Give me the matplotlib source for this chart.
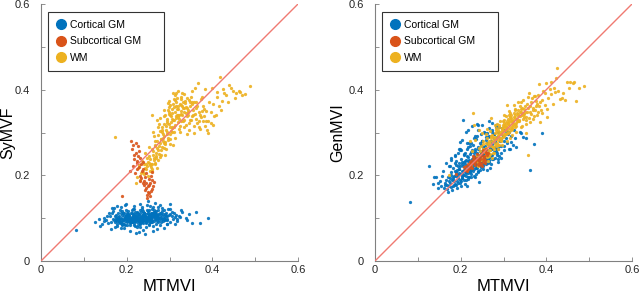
import numpy as np
import matplotlib
matplotlib.use("Agg")
import matplotlib.pyplot as plt
from matplotlib.lines import Line2D

plt.rcParams['font.family'] = ['Liberation Sans', 'DejaVu Sans']

# ---- data (MTMVI shared by both panels) ----
ctx_mtmvi = [0.182,0.195,0.207,0.214,0.221,0.228,0.236,0.243,0.251,0.259,
             0.176,0.188,0.199,0.211,0.219,0.232,0.240,0.248,0.262,0.271,
             0.168,0.179,0.191,0.203,0.216,0.225,0.238,0.254,0.266,0.280,
             0.185,0.197,0.206,0.218,0.229,0.234,0.246,0.257,0.269,0.284,
             0.172,0.189,0.201,0.209,0.223,0.237,0.249,0.261,0.274,0.291,
             0.193,0.205,0.213,0.226,0.231,0.244,0.253,0.264,0.277,0.288,
             0.161,0.174,0.186,0.198,0.212,0.222,0.239,0.252,0.268,0.295,
             0.178,0.194,0.204,0.217,0.227,0.241,0.256,0.263,0.276,0.299,
             0.166,0.183,0.200,0.215,0.224,0.235,0.247,0.259,0.272,0.286,
             0.190,0.202,0.210,0.220,0.233,0.245,0.258,0.267,0.282,0.305,
             0.082,0.125,0.138,0.148,0.152,0.158,0.163,0.171,0.196,0.208,
             0.230,0.242,0.255,0.265,0.270,0.283,0.293,0.310,0.318,0.322,
             0.330,0.338,0.345,0.352,0.362,0.390,0.250,0.222,0.187,0.278,
             0.205,0.240,0.215,0.232,
             0.175,0.181,0.187,0.192,0.198,0.203,0.209,0.214,0.219,0.225,
             0.230,0.236,0.241,0.247,0.252,0.258,0.263,0.269,0.274,0.280,
             0.285,0.290,0.296,0.301,0.307,0.312,0.318,0.180,0.186,0.191,
             0.196,0.201,0.207,0.212,0.217,0.223,0.228,0.234,0.239,0.245,
             0.250,0.256,0.261,0.267,0.272,0.278,0.283,0.289,0.294,0.300,
             0.170,0.177,0.183,0.189,0.194,0.200,0.206,0.211,0.216,0.222,
             0.227,0.233,0.238,0.244,0.249,0.255,0.260,0.266,0.271,0.277,
             0.164,0.169,0.173,0.178,0.184,0.188,0.193,0.199,0.204,0.208,
             0.213,0.218,0.224,0.229,0.235,0.240,0.246,0.251,0.257,0.262,
             0.268,0.273,0.279,0.284,0.290,0.295,0.302,0.309,0.315,0.325,
             0.157,0.146,0.135,0.143,0.155,0.166,0.178,0.199,0.218,0.228,
             0.237,0.248,0.262,0.273,0.288,0.300,0.313,0.328,0.341,0.372,
             0.221,0.226,0.231,0.237,0.242,0.248,0.253,0.259,0.264,0.270,
             0.185,0.190,0.196,0.202,0.207,0.212,0.218,0.224,0.230,0.236,
             0.241,0.246,0.252,0.257,0.263,0.268,0.274,0.280,0.287,0.293,
             0.198,0.204,0.212,0.219,0.226,0.233,0.241,0.249,0.257,0.266,
             0.274,0.283,0.292,0.172,0.178,0.186,0.193,0.201,0.208,0.215]
ctx_symvf = [0.094,0.101,0.088,0.105,0.097,0.110,0.092,0.103,0.099,0.108,
             0.108,0.085,0.097,0.092,0.114,0.087,0.106,0.095,0.112,0.101,
             0.098,0.103,0.112,0.099,0.083,0.100,0.116,0.090,0.098,0.107,
             0.089,0.094,0.107,0.101,0.093,0.098,0.089,0.111,0.117,0.094,
             0.091,0.116,0.085,0.111,0.106,0.094,0.113,0.104,0.090,0.113,
             0.099,0.093,0.096,0.085,0.119,0.101,0.105,0.093,0.112,0.104,
             0.104,0.095,0.090,0.108,0.118,0.103,0.097,0.084,0.106,0.099,
             0.082,0.106,0.102,0.088,0.095,0.111,0.100,0.119,0.096,0.108,
             0.112,0.099,0.093,0.103,0.090,0.107,0.102,0.096,0.103,0.118,
             0.087,0.110,0.098,0.094,0.102,0.093,0.091,0.110,0.099,0.105,
             0.072,0.091,0.082,0.101,0.096,0.112,0.075,0.123,0.130,0.070,
             0.134,0.063,0.128,0.135,0.075,0.124,0.086,0.112,0.093,0.106,
             0.114,0.101,0.109,0.088,0.115,0.100,0.139,0.066,0.125,0.131,
             0.096,0.104,0.121,0.079,
             0.101,0.092,0.111,0.086,0.104,0.117,0.090,0.109,0.082,0.115,
             0.089,0.121,0.096,0.118,0.086,0.121,0.102,0.087,0.120,0.091,
             0.109,0.096,0.121,0.092,0.115,0.103,0.099,0.113,0.078,0.096,
             0.083,0.102,0.094,0.113,0.099,0.080,0.107,0.114,0.088,0.109,
             0.093,0.106,0.082,0.114,0.101,0.085,0.116,0.099,0.087,0.122,
             0.096,0.087,0.104,0.099,0.112,0.091,0.106,0.095,0.108,0.099,
             0.111,0.096,0.103,0.092,0.117,0.098,0.113,0.104,0.094,0.100,
             0.090,0.116,0.080,0.097,0.120,0.093,0.078,0.118,0.109,0.085,
             0.103,0.121,0.095,0.090,0.125,0.113,0.080,0.118,0.105,0.125,
             0.097,0.110,0.103,0.099,0.109,0.104,0.110,0.097,0.107,0.103,
             0.089,0.094,0.097,0.087,0.104,0.124,0.128,0.133,0.129,0.068,
             0.072,0.130,0.071,0.126,0.078,0.133,0.087,0.118,0.095,0.089,
             0.106,0.101,0.098,0.108,0.104,0.100,0.107,0.102,0.108,0.106,
             0.098,0.107,0.100,0.105,0.101,0.098,0.093,0.111,0.103,0.099,
             0.111,0.097,0.109,0.096,0.115,0.109,0.107,0.112,0.101,0.095,
             0.097,0.104,0.091,0.109,0.100,0.096,0.113,0.103,0.092,0.110,
             0.101,0.098,0.106,0.105,0.093,0.101,0.087,0.112,0.097,0.104]
ctx_genmvi = [0.196,0.205,0.212,0.221,0.208,0.229,0.218,0.236,0.227,0.241,
              0.183,0.199,0.190,0.226,0.215,0.241,0.230,0.219,0.252,0.247,
              0.178,0.190,0.212,0.198,0.234,0.213,0.253,0.246,0.232,0.266,
              0.187,0.215,0.201,0.205,0.222,0.262,0.241,0.268,0.259,0.248,
              0.175,0.207,0.186,0.233,0.197,0.226,0.281,0.235,0.272,0.279,
              0.193,0.208,0.199,0.238,0.244,0.231,0.222,0.273,0.286,0.262,
              0.170,0.193,0.179,0.222,0.205,0.249,0.236,0.257,0.245,0.269,
              0.201,0.183,0.227,0.192,0.258,0.210,0.264,0.250,0.238,0.292,
              0.188,0.218,0.204,0.244,0.230,0.202,0.252,0.283,0.261,0.301,
              0.204,0.193,0.215,0.236,0.226,0.275,0.243,0.292,0.256,0.287,
              0.138,0.221,0.196,0.171,0.186,0.209,0.178,0.160,0.262,0.249,
              0.287,0.184,0.301,0.328,0.226,0.312,0.240,0.296,0.277,0.270,
              0.265,0.302,0.290,0.286,0.212,0.300,0.318,0.269,0.248,0.297,
              0.329,0.318,0.276,0.214,
              0.221,0.176,0.244,0.186,0.258,0.231,0.179,0.262,0.196,0.275,
              0.199,0.284,0.208,0.296,0.214,0.290,0.229,0.218,0.306,0.241,
              0.289,0.245,0.311,0.268,0.303,0.262,0.291,0.165,0.211,0.171,
              0.229,0.176,0.247,0.189,0.266,0.203,0.271,0.196,0.291,0.213,
              0.281,0.229,0.299,0.236,0.248,0.296,0.264,0.312,0.251,0.306,
              0.196,0.207,0.192,0.233,0.201,0.239,0.221,0.251,0.218,0.222,
              0.233,0.256,0.224,0.257,0.247,0.253,0.262,0.258,0.281,0.255,
              0.181,0.169,0.186,0.173,0.198,0.178,0.221,0.183,0.194,0.201,
              0.207,0.196,0.255,0.211,0.222,0.267,0.225,0.236,0.242,0.276,
              0.264,0.239,0.277,0.253,0.268,0.284,0.281,0.276,0.261,0.307,
              0.198,0.181,0.180,0.195,0.174,0.228,0.235,0.277,0.306,0.241,
              0.320,0.270,0.212,0.322,0.232,0.258,0.302,0.286,0.299,0.272,
              0.211,0.218,0.238,0.216,0.246,0.231,0.252,0.226,0.239,0.268,
              0.178,0.223,0.214,0.211,0.232,0.236,0.242,0.230,0.251,0.242,
              0.261,0.239,0.266,0.239,0.290,0.243,0.266,0.283,0.239,0.296,
              0.262,0.283,0.301,0.276,0.315,0.292,0.306,0.281,0.299,0.310,
              0.301,0.318,0.284,0.221,0.241,0.228,0.251,0.259,0.188,0.176]

sub_mtmvi = [0.212,0.218,0.221,0.225,0.214,0.229,0.223,0.217,0.231,0.226,
             0.219,0.234,0.228,0.222,0.236,0.215,0.232,0.227,0.238,0.224,
             0.241,0.245,0.249,0.252,0.243,0.247,0.255,0.251,0.258,0.244,
             0.248,0.253,0.256,0.246,0.250,0.259,0.242,0.254,0.262,0.257,
             0.190,0.207,0.239,0.260,0.237,0.233,0.264,0.240,0.209,0.230]
sub_symvf = [0.262,0.248,0.275,0.233,0.222,0.256,0.214,0.238,0.241,0.268,
             0.205,0.227,0.219,0.251,0.209,0.270,0.198,0.244,0.231,0.228,
             0.186,0.171,0.162,0.177,0.196,0.154,0.183,0.192,0.168,0.205,
             0.147,0.158,0.199,0.181,0.174,0.189,0.166,0.151,0.176,0.163,
             0.152,0.211,0.214,0.207,0.182,0.193,0.185,0.178,0.281,0.187]
sub_genmvi = [0.221,0.214,0.232,0.227,0.209,0.238,0.219,0.226,0.242,0.229,
              0.216,0.231,0.245,0.224,0.236,0.212,0.228,0.218,0.249,0.234,
              0.241,0.228,0.252,0.237,0.223,0.246,0.244,0.232,0.255,0.239,
              0.226,0.258,0.236,0.247,0.221,0.251,0.233,0.243,0.248,0.229,
              0.204,0.219,0.241,0.262,0.237,0.225,0.253,0.227,0.212,0.235]

wm_mtmvi = [0.245,0.252,0.258,0.263,0.268,0.272,0.276,0.281,0.285,0.289,
            0.293,0.297,0.301,0.305,0.309,0.313,0.317,0.321,0.326,0.331,
            0.249,0.256,0.261,0.266,0.271,0.279,0.284,0.291,0.296,0.303,
            0.307,0.311,0.315,0.319,0.324,0.328,0.333,0.337,0.342,0.347,
            0.241,0.247,0.254,0.259,0.265,0.269,0.274,0.278,0.283,0.288,
            0.292,0.298,0.302,0.306,0.312,0.316,0.322,0.327,0.332,0.338,
            0.343,0.348,0.352,0.356,0.361,0.365,0.369,0.374,0.378,0.383,
            0.251,0.257,0.262,0.267,0.273,0.277,0.282,0.287,0.294,0.299,
            0.304,0.308,0.314,0.318,0.323,0.329,0.334,0.339,0.345,0.351,
            0.255,0.264,0.270,0.275,0.280,0.286,0.290,0.295,0.300,0.310,
            0.320,0.325,0.330,0.335,0.340,0.346,0.353,0.358,0.363,0.371,
            0.376,0.381,0.388,0.393,0.398,0.405,0.412,0.418,0.425,0.433,
            0.440,0.448,0.455,0.462,0.470,0.489,0.360,0.367,0.385,0.402,
            0.173,0.225,0.229,0.236,0.238,0.242,0.246,0.260,0.357,0.270,
            0.296,0.301,0.306,0.311,0.316,0.321,0.326,0.312,0.298,0.287,
            0.258,0.264,0.269,0.275,0.280,0.286,0.291,0.297,0.302,0.308,
            0.313,0.319,0.324,0.330,0.335,0.341,0.346,0.352,0.357,0.363,
            0.368,0.374,0.379,0.385,0.391,0.396,0.402,0.408,0.415,0.422,
            0.283,0.289,0.294,0.299,0.305,0.310,0.315,0.321,0.326,0.332,
            0.337,0.343,0.348,0.354,0.359,0.364,0.370,0.376,0.381,0.390,
            0.226,0.233,0.240,0.248,0.253,0.262,0.267,0.272,0.278,0.284,
            0.300,0.306,0.311,0.317,0.322,0.328,0.333,0.339,0.344,0.350,
            0.255,0.260,0.266,0.271,0.277,0.282,0.288,0.293,0.298,0.303,
            0.428,0.436,0.444,0.452,0.465,0.476,0.399,0.411,0.420,0.383,
            0.221,0.232,0.243,0.250,0.289,0.308,0.315,0.341,0.352,0.371]
wm_symvf = [0.215,0.228,0.209,0.241,0.252,0.236,0.268,0.259,0.281,0.274,
            0.296,0.288,0.312,0.301,0.329,0.318,0.342,0.336,0.351,0.327,
            0.232,0.219,0.247,0.228,0.263,0.285,0.297,0.315,0.283,0.338,
            0.346,0.301,0.362,0.325,0.367,0.344,0.358,0.374,0.339,0.361,
            0.203,0.221,0.238,0.214,0.271,0.245,0.293,0.304,0.266,0.321,
            0.307,0.343,0.285,0.355,0.376,0.338,0.309,0.383,0.372,0.346,
            0.352,0.329,0.367,0.341,0.358,0.323,0.347,0.336,0.362,0.315,
            0.244,0.226,0.257,0.279,0.258,0.276,0.312,0.292,0.331,0.319,
            0.324,0.367,0.349,0.381,0.331,0.362,0.389,0.318,0.375,0.384,
            0.223,0.235,0.218,0.249,0.284,0.263,0.278,0.302,0.296,0.314,
            0.354,0.316,0.341,0.330,0.357,0.322,0.339,0.372,0.331,0.341,
            0.382,0.356,0.305,0.371,0.348,0.339,0.395,0.430,0.401,0.387,
            0.412,0.396,0.392,0.398,0.388,0.409,0.405,0.416,0.326,0.317,
            0.289,0.196,0.223,0.234,0.208,0.251,0.227,0.341,0.298,0.330,
            0.352,0.364,0.331,0.359,0.371,0.342,0.365,0.388,0.374,0.339,
            0.262,0.291,0.241,0.321,0.248,0.352,0.262,0.368,0.273,0.392,
            0.286,0.398,0.301,0.393,0.312,0.381,0.306,0.396,0.316,0.371,
            0.312,0.379,0.327,0.351,0.298,0.322,0.366,0.342,0.361,0.374,
            0.301,0.342,0.322,0.359,0.311,0.379,0.333,0.362,0.378,0.357,
            0.368,0.341,0.371,0.352,0.344,0.362,0.328,0.351,0.338,0.327,
            0.218,0.205,0.226,0.241,0.265,0.301,0.226,0.313,0.334,0.288,
            0.340,0.312,0.330,0.354,0.340,0.327,0.347,0.360,0.349,0.329,
            0.211,0.227,0.268,0.279,0.243,0.305,0.276,0.327,0.347,0.304,
            0.392,0.371,0.405,0.381,0.395,0.389,0.405,0.382,0.353,0.401,
            0.181,0.188,0.217,0.198,0.247,0.271,0.392,0.297,0.372,0.309]
wm_genmvi = [0.247,0.262,0.251,0.270,0.258,0.281,0.266,0.289,0.275,0.296,
             0.283,0.304,0.291,0.312,0.299,0.318,0.306,0.325,0.314,0.332,
             0.238,0.255,0.243,0.276,0.269,0.272,0.301,0.288,0.310,0.296,
             0.322,0.308,0.329,0.315,0.336,0.321,0.343,0.327,0.349,0.337,
             0.229,0.268,0.236,0.263,0.281,0.249,0.292,0.261,0.284,0.271,
             0.301,0.289,0.318,0.296,0.324,0.337,0.318,0.341,0.326,0.348,
             0.341,0.356,0.336,0.349,0.362,0.344,0.358,0.352,0.367,0.361,
             0.273,0.244,0.287,0.259,0.293,0.279,0.268,0.305,0.279,0.313,
             0.306,0.327,0.302,0.334,0.329,0.315,0.352,0.339,0.332,0.361,
             0.259,0.252,0.287,0.266,0.298,0.290,0.313,0.297,0.322,0.331,
             0.311,0.345,0.322,0.338,0.355,0.344,0.329,0.358,0.347,0.339,
             0.373,0.388,0.352,0.398,0.364,0.381,0.417,0.404,0.450,0.378,
             0.392,0.418,0.418,0.416,0.374,0.408,0.392,0.381,0.324,0.337,
             0.200,0.224,0.345,0.233,0.246,0.264,0.257,0.276,0.247,0.335,
             0.308,0.296,0.315,0.320,0.311,0.328,0.335,0.342,0.317,0.293,
             0.296,0.234,0.304,0.251,0.318,0.262,0.327,0.271,0.341,0.281,
             0.351,0.293,0.364,0.301,0.371,0.313,0.377,0.319,0.382,0.325,
             0.331,0.385,0.341,0.371,0.346,0.392,0.355,0.401,0.366,0.428,
             0.310,0.318,0.296,0.327,0.339,0.300,0.346,0.309,0.352,0.345,
             0.329,0.357,0.343,0.366,0.334,0.371,0.352,0.362,0.348,0.375,
             0.256,0.283,0.222,0.236,0.281,0.309,0.275,0.240,0.288,0.320,
             0.330,0.305,0.322,0.341,0.323,0.356,0.326,0.362,0.316,0.347,
             0.234,0.264,0.246,0.292,0.252,0.306,0.282,0.287,0.304,0.313,
             0.397,0.381,0.376,0.405,0.419,0.404,0.415,0.391,0.395,0.414,
             0.279,0.318,0.307,0.298,0.271,0.364,0.287,0.372,0.298,0.385]

labels = ['Cortical GM', 'Subcortical GM', 'WM']
colors = ['#0072BD', '#D95319', '#EDB120']
ticks = [0, 0.1, 0.2, 0.3, 0.4, 0.5, 0.6]
tick_labels = ['0', '', '0.2', '', '0.4', '', '0.6']

panels = [
    ('SyMVF', [ctx_symvf, sub_symvf, wm_symvf]),
    ('GenMVI', [ctx_genmvi, sub_genmvi, wm_genmvi]),
]
xs = [ctx_mtmvi, sub_mtmvi, wm_mtmvi]
# draw order: cortical, WM, then subcortical on top
order = [0, 2, 1]

fig = plt.figure(figsize=(6.4, 2.96), dpi=100)
lefts = [41 / 640, 375 / 640]
ylab_x = [-0.128, -0.143]
axc = '#808080'

for (ylab, ys), left, lx in zip(panels, lefts, ylab_x):
    ax = fig.add_axes([left, 35 / 296, 257 / 640, 257 / 296])
    for i in order:
        ax.scatter(xs[i], ys[i], s=5.5, c=colors[i], marker='o',
                   linewidths=0, alpha=0.9, zorder=2)
    ax.plot([0, 0.6], [0, 0.6], color='#f07a72', lw=1, zorder=3)
    ax.set_xlim(0, 0.6)
    ax.set_ylim(0, 0.6)
    ax.set_xticks(ticks)
    ax.set_xticklabels(tick_labels)
    ax.set_yticks(ticks)
    ax.set_yticklabels(tick_labels)
    for s in ['top', 'right']:
        ax.spines[s].set_visible(False)
    for s in ['left', 'bottom']:
        ax.spines[s].set_color(axc)
        ax.spines[s].set_linewidth(0.8)
    ax.tick_params(direction='in', length=3, width=0.6, color=axc,
                   labelsize=8, labelcolor='#262626')
    ax.tick_params(axis='x', pad=3)
    ax.tick_params(axis='y', pad=8)
    ax.set_xlabel('MTMVI', fontsize=12, labelpad=3)
    ax.set_ylabel(ylab, fontsize=11.5, va='center')
    ax.yaxis.set_label_coords(lx, 0.5)
    handles = [Line2D([], [], marker='o', ls='', color=c, markersize=7)
               for c in colors]
    leg = ax.legend(handles, labels, loc='upper left', mode='expand',
                    bbox_to_anchor=(7 / 257, 0, 116 / 257, 1 - 8 / 257),
                    borderaxespad=0, fontsize=7.5, frameon=True,
                    fancybox=False, handlelength=1.0, handletextpad=0.4,
                    labelspacing=0.63, borderpad=0.75)
    leg.get_frame().set_edgecolor('black')
    leg.get_frame().set_linewidth(0.8)

fig.savefig('out.png', dpi=100)
